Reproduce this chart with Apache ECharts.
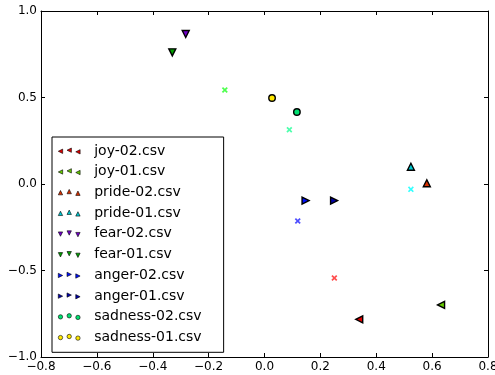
<!DOCTYPE html>
<html>
<head>
<meta charset="utf-8">
<script src="https://cdn.jsdelivr.net/npm/echarts@6/dist/echarts.min.js"></script>
<style>
  html, body { margin: 0; padding: 0; background: #ffffff; }
  #chart { width: 495px; height: 375px; }
</style>
</head>
<body>
<div id="chart"></div>
<script>
const seriesNames = [
  "joy-02.csv", "joy-01.csv", "pride-02.csv", "pride-01.csv", "fear-02.csv",
  "fear-01.csv", "anger-02.csv", "anger-01.csv", "sadness-02.csv", "sadness-01.csv",
];
const seriesColors = [
  "#e00000", "#66cc00", "#d83000", "#00c8d0", "#7000c8",
  "#00a000", "#0010ff", "#0000a8", "#00e070", "#ffe800",
];
const seriesShapes = ["left", "left", "up", "up", "down", "down", "right", "right", "circle", "circle"];
const pointX = [0.339, 0.632, 0.581, 0.524, -0.282, -0.330, 0.147, 0.249, 0.116, 0.027];
const pointY = [-0.782, -0.699, 0.004, 0.100, 0.867, 0.761, -0.096, -0.096, 0.416, 0.497];

const crossX = [-0.142, 0.089, 0.524, 0.119, 0.250];
const crossY = [0.543, 0.314, -0.031, -0.214, -0.543];
const crossColors = ["#22ff22", "#22ff99", "#00ffff", "#2222ff", "#ff2222"];

const xTicks = { min: -0.8, max: 0.8, interval: 0.2 };
const yTicks = { min: -1.0, max: 1.0, interval: 0.5 };

const font = "DejaVu Sans";
const fmt = (v) => v.toFixed(1).replace("-", "\u2212");

const rotations = { up: 0, left: 90, down: 180, right: -90 };

// one small marker in legend space, centred at (cx, cy)
function glyph(shape, cx, cy) {
  const s = 2.5;
  if (shape === "up") return `M${cx},${cy - s}L${cx + s},${cy + s}L${cx - s},${cy + s}Z`;
  if (shape === "down") return `M${cx},${cy + s}L${cx + s},${cy - s}L${cx - s},${cy - s}Z`;
  if (shape === "left") return `M${cx - s},${cy}L${cx + s},${cy - s}L${cx + s},${cy + s}Z`;
  if (shape === "right") return `M${cx + s},${cy}L${cx - s},${cy - s}L${cx - s},${cy + s}Z`;
  return `M${cx - s},${cy}A${s},${s} 0 1 0 ${cx + s},${cy}A${s},${s} 0 1 0 ${cx - s},${cy}Z`;
}

// matplotlib draws three scatter points per legend row at staggered heights
function legendIcon(shape) {
  return "path://" + glyph(shape, 2.5, 6.25) + glyph(shape, 12.5, 5) + glyph(shape, 22.5, 6.875);
}

const crossPath = "path://M0,2L2,0L5,3L8,0L10,2L7,5L10,8L8,10L5,7L2,10L0,8L3,5Z";

const axisCommon = {
  axisLine: { onZero: false, lineStyle: { color: "#000000", width: 1 } },
  axisTick: { inside: true, length: 4, lineStyle: { color: "#000000" } },
  splitLine: { show: false },
};

const chart = echarts.init(document.getElementById("chart"));
chart.setOption({
  backgroundColor: "#ffffff",
  animation: false,
  grid: { left: 41, right: 7, top: 11, bottom: 18, outerBoundsMode: "none", containLabel: false },
  legend: {
    orient: "vertical",
    left: 52,
    top: 137,
    padding: [6, 22, 7, 6],
    itemWidth: 24,
    itemHeight: 6,
    itemGap: 4.7,
    itemTextGap: 10,
    backgroundColor: "#ffffff",
    borderColor: "#000000",
    borderWidth: 1,
    borderRadius: 0,
    textStyle: { fontFamily: font, fontSize: 14, color: "#000000", lineHeight: 16, padding: [0, 0, 0, 8] },
    data: seriesNames.map((name, i) => ({
      name,
      icon: legendIcon(seriesShapes[i]),
      itemStyle: { borderColor: "#000000", borderWidth: 0.6 },
    })),
  },
  xAxis: [
    {
      type: "value", min: xTicks.min, max: xTicks.max, interval: xTicks.interval,
      ...axisCommon,
      axisLabel: { color: "#000000", fontFamily: font, fontSize: 12, margin: 4, formatter: fmt },
    },
    {
      type: "value", position: "top", min: xTicks.min, max: xTicks.max, interval: xTicks.interval,
      ...axisCommon,
      axisLabel: { show: false },
    },
  ],
  yAxis: [
    {
      type: "value", min: yTicks.min, max: yTicks.max, interval: yTicks.interval,
      ...axisCommon,
      axisLabel: { color: "#000000", fontFamily: font, fontSize: 12, margin: 4, formatter: fmt },
    },
    {
      type: "value", position: "right", min: yTicks.min, max: yTicks.max, interval: yTicks.interval,
      ...axisCommon,
      axisLabel: { show: false },
    },
  ],
  series: [
    ...crossX.map((x, i) => ({
      name: "centre-" + i,
      type: "scatter",
      symbol: crossPath,
      symbolSize: 6,
      itemStyle: { color: crossColors[i] },
      data: [[x, crossY[i]]],
      z: 2,
    })),
    ...seriesNames.map((name, i) => {
      const shape = seriesShapes[i];
      return {
        name,
        type: "scatter",
        symbol: shape === "circle" ? "circle" : "triangle",
        symbolRotate: rotations[shape] || 0,
        symbolSize: shape === "circle" ? 6.5 : 7,
        itemStyle: { color: seriesColors[i], borderColor: "#000000", borderWidth: 1.4, opacity: 1 },
        data: [[pointX[i], pointY[i]]],
        z: 3,
      };
    }),
  ],
});
</script>
</body>
</html>
